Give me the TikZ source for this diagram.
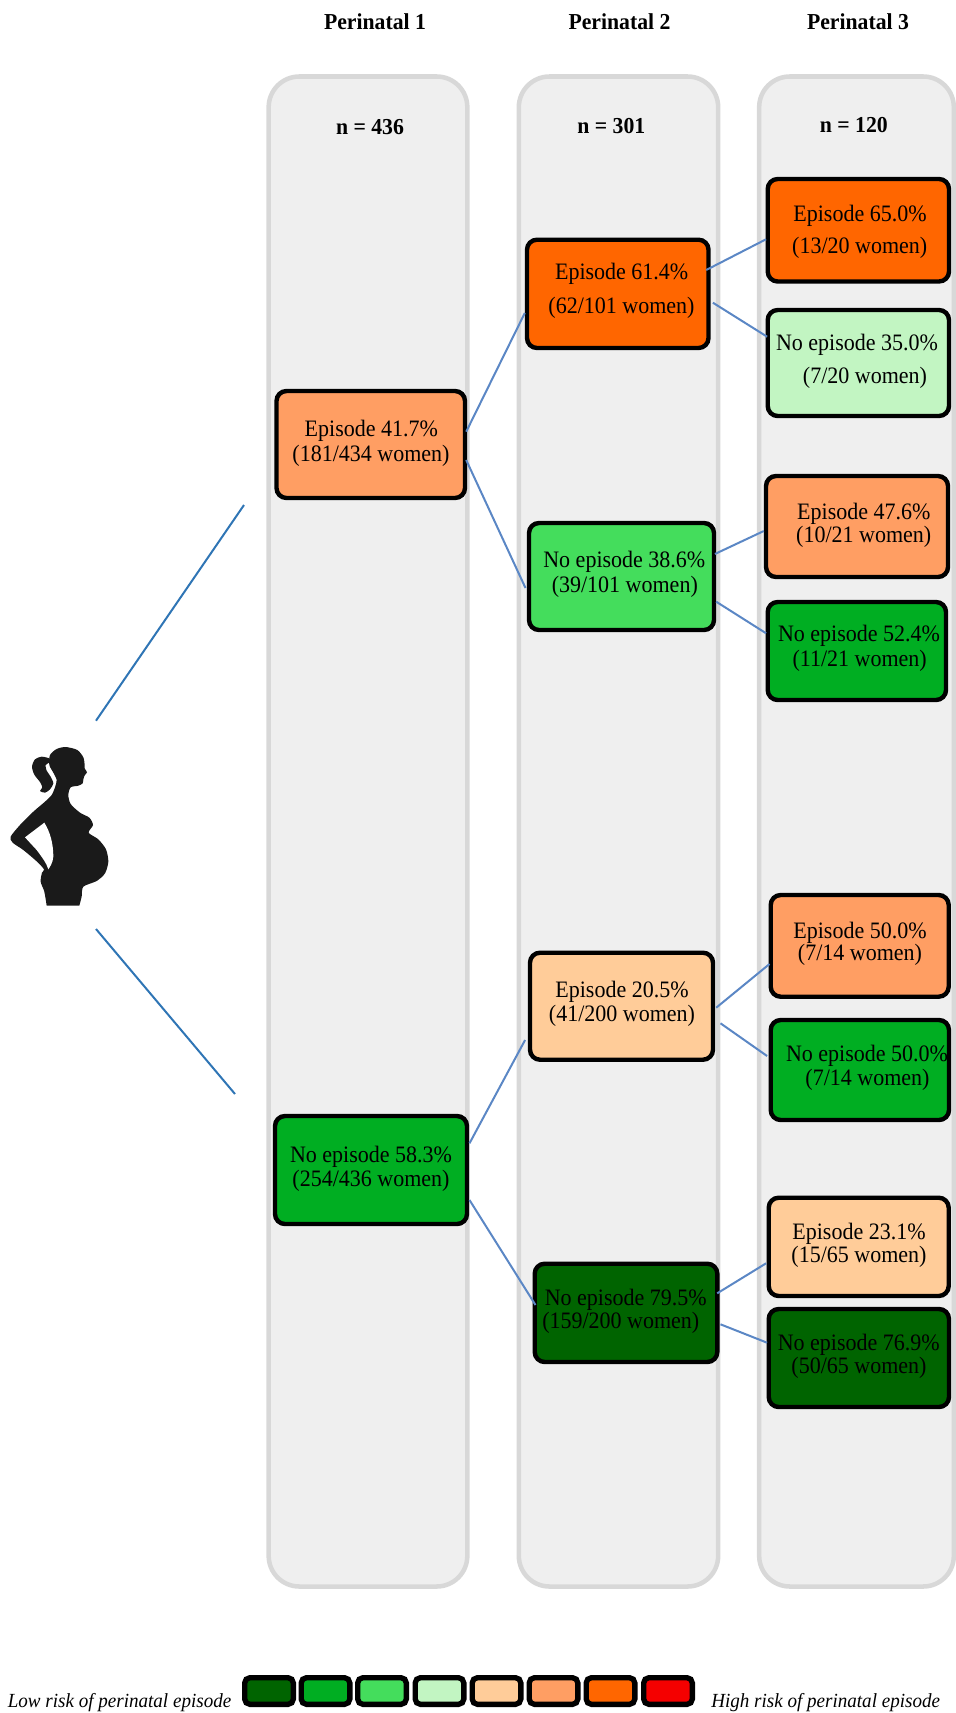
\documentclass[tikz,border=0pt]{standalone}
\usepackage{fontspec}
\usepackage{graphicx}
\setmainfont{Liberation Serif}
\usetikzlibrary{calc}
\definecolor{panelfill}{HTML}{EFEFEF}
\definecolor{panelline}{HTML}{D8D8D8}
\definecolor{cA}{HTML}{006400}
\definecolor{cB}{HTML}{00AE22}
\definecolor{cC}{HTML}{44DD5C}
\definecolor{cD}{HTML}{C2F5C2}
\definecolor{cE}{HTML}{FFCC99}
\definecolor{cF}{HTML}{FF9E63}
\definecolor{cG}{HTML}{FF6600}
\definecolor{cH}{HTML}{F50000}
\definecolor{linkA}{HTML}{5B87C5}
\definecolor{linkB}{HTML}{2F75B5}
\definecolor{figure}{HTML}{1A1A1A}
\tikzset{
  panel/.style={draw=panelline,fill=panelfill,line width=3.4pt,rounded corners=23pt,inner sep=0pt},
  riskbox/.style={draw=black,line width=3.3pt,rounded corners=7.5pt,inner sep=0pt},
  legendbox/.style={draw=black,line width=4pt,rounded corners=4pt,inner sep=0pt,minimum width=36.5pt,minimum height=20pt},
  head/.style={anchor=base,font=\fontsize{16.3}{18}\selectfont\bfseries,inner sep=0pt},
  legendtext/.style={anchor=base west,font=\fontsize{14.3}{16}\selectfont\itshape,inner sep=0pt},
  link/.style={draw=linkA,line width=1.5pt},
  longlink/.style={draw=linkB,line width=1.5pt}
}
% a panel or box from its outer edges
\newcommand{\placebox}[7]{%
  \pgfmathsetmacro\cxv{(#3+#5)/2}%
  \pgfmathsetmacro\cyv{(#4+#6)/2}%
  \pgfmathsetmacro\wv{(#5-#3-4)*0.75}%
  \pgfmathsetmacro\hv{(#6-#4-4)*0.75}%
  \node[#1,fill=#7,minimum width=\wv pt,minimum height=\hv pt] (#2) at (\cxv,\cyv)}
% one text line, centred on x, with its baseline at y
\newcommand{\lineat}[3]{%
  \pgfmathsetlengthmacro\dxl{(#1-\cxv)*1.5pt}%
  \pgfmathsetlengthmacro\dyl{(\cyv-#2)*0.75pt}%
  \makebox[0pt]{\fontsize{16.5}{18}\selectfont\hspace*{\dxl}\raisebox{\dyl}[0pt][0pt]{\scalebox{1}[1.07]{#3}}}}
\begin{document}
\begin{tikzpicture}[x=0.75pt,y=-0.75pt]
\useasboundingbox (0,0) rectangle (956,1713);
% panels
\node[panel,minimum width=149pt,minimum height=1132.5pt] (p1) at (368,831.5) {};
\node[panel,minimum width=149.5pt,minimum height=1132.5pt] (p2) at (618.5,831.5) {};
\node[panel,minimum width=146pt,minimum height=1132.5pt] (p3) at (856.5,831.5) {};
% headings
\node[head] (h1) at (375,29) {\scalebox{1}[1.05]{Perinatal 1}};
\node[head] (h2) at (619.5,29) {\scalebox{1}[1.05]{Perinatal 2}};
\node[head] (h3) at (858,29) {\scalebox{1}[1.05]{Perinatal 3}};
\node[head] (n1) at (370,134) {\scalebox{1}[1.05]{n = 436}};
\node[head] (n2) at (611.3,133) {\scalebox{1}[1.05]{n = 301}};
\node[head] (n3) at (853.8,132) {\scalebox{1}[1.05]{n = 120}};
% boxes
\placebox{riskbox}{e41}{274.5}{389}{467}{500}{cF} {\lineat{371.3}{436.7}{Episode 41.7\%}\lineat{371}{461.7}{(181/434 women)}};
\placebox{riskbox}{n58}{273}{1114}{469}{1226}{cB} {\lineat{371}{1162}{No episode 58.3\%}\lineat{371}{1186}{(254/436 women)}};
\placebox{riskbox}{e61}{525}{237.7}{710.5}{350}{cG} {\lineat{621.7}{279.3}{Episode 61.4\%}\lineat{621.5}{313}{(62/101 women)}};
\placebox{riskbox}{n38}{527}{521}{716}{632}{cC} {\lineat{624.3}{567.7}{No episode 38.6\%}\lineat{624.8}{592.3}{(39/101 women)}};
\placebox{riskbox}{e20}{528}{950.7}{715}{1061.7}{cE} {\lineat{622}{997.7}{Episode 20.5\%}\lineat{622}{1021.7}{(41/200 women)}};
\placebox{riskbox}{n79}{532.7}{1261.7}{719.3}{1364}{cA} {\lineat{625.8}{1305}{No episode 79.5\%}\lineat{620.8}{1328}{(159/200 women)}};
\placebox{riskbox}{e65}{765.7}{177}{951}{283.5}{cG} {\lineat{860}{221.7}{Episode 65.0\%}\lineat{859.7}{253}{(13/20 women)}};
\placebox{riskbox}{n35}{765.7}{308}{951}{418}{cD} {\lineat{857}{350.7}{No episode 35.0\%}\lineat{865}{383}{(7/20 women)}};
\placebox{riskbox}{e47}{764}{474}{950}{579}{cF} {\lineat{863.8}{519}{Episode 47.6\%}\lineat{863.7}{542}{(10/21 women)}};
\placebox{riskbox}{n52}{765.7}{600}{948}{702}{cB} {\lineat{859}{641.7}{No episode 52.4\%}\lineat{859.7}{666}{(11/21 women)}};
\placebox{riskbox}{e50}{768.7}{893}{950.7}{998.7}{cF} {\lineat{860}{938}{Episode 50.0\%}\lineat{860}{960.7}{(7/14 women)}};
\placebox{riskbox}{n50}{768.7}{1018}{951}{1122}{cB} {\lineat{867}{1061.7}{No episode 50.0\%}\lineat{867.5}{1085}{(7/14 women)}};
\placebox{riskbox}{e23}{766.7}{1195.7}{950.7}{1298}{cE} {\lineat{859}{1239}{Episode 23.1\%}\lineat{859}{1262.7}{(15/65 women)}};
\placebox{riskbox}{n76}{766.7}{1307}{951}{1409}{cA} {\lineat{858.8}{1350.7}{No episode 76.9\%}\lineat{859}{1373}{(50/65 women)}};
% connectors
\draw[link] ($(e41.east)+(-1,-12.8)$) -- ($(e61.west)+(0,19.15)$);
\draw[link] ($(e41.east)+(-1,15.5)$) -- ($(n38.west)+(-1.3,11.5)$);
\draw[link] ($(e61.east)+(-4.5,-23.85)$) -- ($(e65.west)+(0.6,9)$);
\draw[link] ($(e61.east)+(2.2,8.85)$) -- ($(n35.west)+(1.6,-26.3)$);
\draw[link] ($(n38.east)+(-1.3,-22.5)$) -- ($(e47.west)+(0,4.5)$);
\draw[link] ($(n38.east)+(0,25.2)$) -- ($(n52.west)+(0.6,-17.7)$);
\draw[link] ($(n58.east)+(0.3,-26.7)$) -- ($(e20.west)+(-2.7,33.8)$);
\draw[link] ($(n58.east)+(0.3,30)$) -- ($(n79.west)+(3,-7.85)$);
\draw[link] ($(e20.east)+(1,1.5)$) -- ($(e50.west)+(1,18.15)$);
\draw[link] ($(e20.east)+(5.3,17.1)$) -- ($(n50.west)+(-1.4,-14)$);
\draw[link] ($(n79.east)+(-2.3,-19.55)$) -- ($(e23.west)+(-0.4,16.45)$);
\draw[link] ($(n79.east)+(1,11.45)$) -- ($(n76.west)+(0.6,-15.3)$);
% lines from the figure
\coordinate (figtop) at (96,720.7);
\coordinate (figbot) at (96,929);
\coordinate (endtop) at (244,505);
\coordinate (endbot) at (235,1094);
\draw[longlink] (figtop) -- (endtop);
\draw[longlink] (figbot) -- (endbot);
% silhouette
\begin{scope}[shift={(0,700)},x=0.25pt,y=-0.25pt]
\fill[figure] plot[smooth,tension=0.45] coordinates {(140,617) (133,575) (122,545) (126,518) (132,508) (110,484) (70,450) (38,428) (32,410) (60,375) (100,335) (135,305) (155,285) (165,262) (170,240) (160,218) (148,195) (150,165) (170,147) (197,141) (232,150) (250,172) (254,195) (254,205) (261,217) (254,226) (250,238) (248,250) (235,257) (212,262) (205,285) (212,312) (240,338) (268,353) (279,375) (266,398) (295,418) (318,448) (325,485) (315,520) (290,543) (250,560) (245,590) (238,617)} -- cycle;
\fill[figure] plot[smooth cycle,tension=0.45] coordinates {(150,176) (125,170) (105,178) (96,200) (103,224) (120,246) (127,262) (120,273) (135,278) (150,268) (160,250) (152,230) (140,212) (137,195) (150,186)};
\fill[white] (133,368) .. controls (150,395) and (160,430) .. (160,470) .. controls (158,490) and (150,500) .. (145,508) .. controls (140,490) and (125,470) .. (110,450) -- (75,412) -- cycle;
\end{scope}
% legend
\node[legendtext] (lowtxt) at (7.5,1707) {\scalebox{1}[1.05]{Low risk of perinatal episode}};
\node[legendtext] (hightxt) at (711,1707) {\scalebox{1}[1.05]{High risk of perinatal episode}};
\node[legendbox,fill=cA] (l1) at (269,1691) {};
\node[legendbox,fill=cB] (l2) at (325.5,1691) {};
\node[legendbox,fill=cC] (l3) at (382,1691) {};
\node[legendbox,fill=cD] (l4) at (439.5,1691) {};
\node[legendbox,fill=cE] (l5) at (496.5,1691) {};
\node[legendbox,fill=cF] (l6) at (553.5,1691) {};
\node[legendbox,fill=cG] (l7) at (610.5,1691) {};
\node[legendbox,fill=cH] (l8) at (668,1691) {};
\end{tikzpicture}
\end{document}
